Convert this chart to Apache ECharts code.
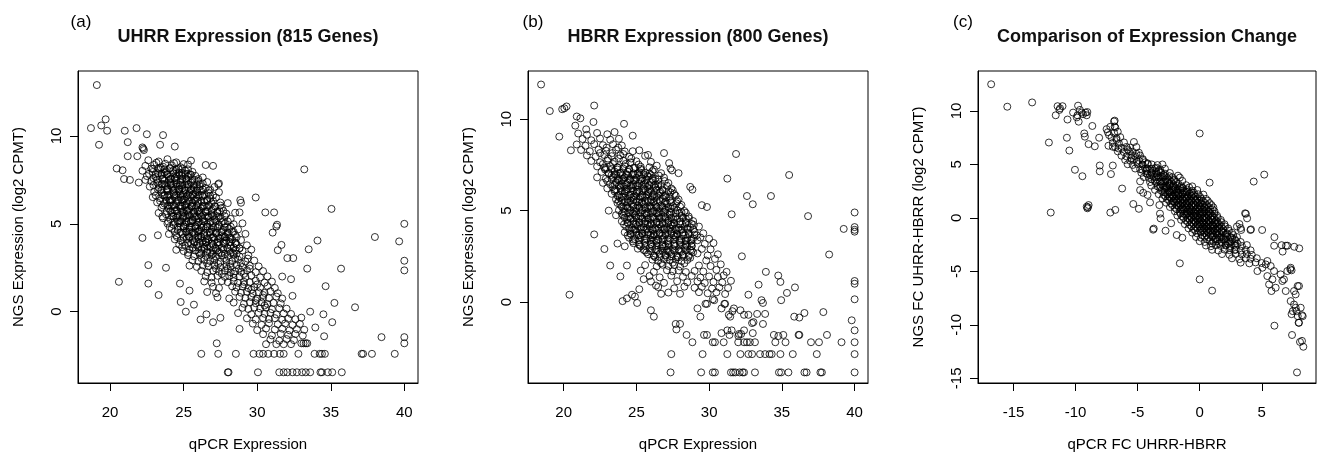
<!DOCTYPE html>
<html>
<head>
<meta charset="utf-8">
<title>qPCR vs NGS expression</title>
<script src="https://cdn.jsdelivr.net/npm/echarts@6/dist/echarts.min.js"></script>
<style>
  html, body { margin: 0; padding: 0; background: #fff; }
  #chart { width: 1317px; height: 457px; }
</style>
</head>
<body>
<div id="chart"></div>
<script>
// labels
const panelLetters = ['(a)', '(b)', '(c)'];
const panelTitles = ['UHRR Expression (815 Genes)', 'HBRR Expression (800 Genes)', 'Comparison of Expression Change'];
const xNames = ['qPCR Expression', 'qPCR Expression', 'qPCR FC UHRR-HBRR'];
const yNames = ['NGS Expression (log2 CPMT)', 'NGS Expression (log2 CPMT)', 'NGS FC UHRR-HBRR (log2 CPMT)'];

// tick labels
const xTicksExpr = [20, 25, 30, 35, 40];
const yTicksExpr = [0, 5, 10];
const xTicksFc = [-15, -10, -5, 0, 5];
const yTicksFc = [-15, -10, -5, 0, 5, 10];

// (a) UHRR: points outside the dense cloud
const uhrrOutliers = [
  [19.1,12.9],[18.7,10.45],[19.25,9.5],[19.4,10.6],[19.7,10.95],[19.8,10.3],
  [21.0,10.3],[21.8,10.45],[22.5,10.1],[23.6,10.05],[23.4,9.5],[24.4,9.4],
  [21.2,9.65],[21.2,8.85],[21.85,8.85],[22.2,9.35],[22.3,9.2],[22.25,9.28],
  [20.45,8.15],[20.85,8.05],[20.95,7.55],[21.35,7.5],[21.95,7.35],[22.4,7.5],
  [25.5,8.6],[26.5,8.35],[27.0,8.3],[27.35,7.25],[27.4,7.3],
  [22.2,4.2],[20.6,1.7],[22.6,2.65],[22.6,1.6],[23.3,0.95],[23.8,2.5],[23.25,4.35],
  [24.75,1.6],[24.8,0.55],[25.15,0.0],[25.7,0.4],[25.4,1.2],
  [26.2,-2.4],[26.15,-0.45],[26.55,-0.15],[27.0,-0.6],[27.5,-0.35],[27.25,-1.8],[27.35,-2.4],
  [28.0,-3.45],[28.05,-3.45],[28.55,-2.4],[30.05,-3.45],
  [29.75,-2.4],[30.15,-2.4],[30.4,-2.4],[30.75,-2.4],[31.15,-2.4],[31.55,-2.4],[31.8,-2.4],
  [31.5,-3.45],[31.8,-3.45],[32.05,-3.45],[32.4,-3.45],[32.7,-3.45],[33.05,-3.45],[33.3,-3.45],
  [33.6,-3.45],[34.3,-3.45],[34.4,-3.45],[34.8,-3.45],[35.1,-3.45],[35.75,-3.45],
  [32.8,-2.4],[33.9,-2.4],[34.25,-2.4],[34.4,-2.4],[34.6,-2.4],
  [33.0,-1.8],[33.15,-1.8],[33.3,-1.8],[33.4,-1.8],
  [37.1,-2.4],[37.2,-2.4],[37.8,-2.4],[39.35,-2.4],
  [38.45,-1.45],[40,-1.45],[40,-1.8],[40,5.0],[40,2.9],[40,2.35],
  [38.0,4.25],[39.65,4.0],[35.7,2.45],[35.05,5.85],[33.2,8.1],[34.1,4.05],[33.5,3.55],[33.4,2.45],
  [34.65,1.45],[35.25,0.5],[36.65,0.25],[35.1,-0.6],[34.5,-0.15],[33.6,0.0],[33.95,-0.9],[34.55,-1.4],
  [29.9,6.5],[30.55,5.65],[31.15,5.65],[31.3,4.85],[31.35,4.95],[31.05,4.5],[31.65,3.8],[31.4,3.5],
  [32.05,3.05],[32.45,3.05],[32.4,0.9],[31.7,2.0],[32.3,1.85],
  [28.9,6.2],[28.85,6.35],[28.8,5.65]
];

// (a) UHRR: dense cloud
const uhrrCore = [
  [22.6,8.62],[23.3,8.55],[23.9,8.68],[24.5,8.5],
  [22.4,8.3],[23.0,8.36],[23.6,8.25],[24.2,8.33],[24.8,8.22],[25.3,8.38],
  [22.2,8.02],[22.9,7.95],[23.4,8.08],[23.8,7.98],[24.3,8.05],[24.7,7.92],[25.1,8.03],[25.6,7.96],
  [22.5,7.72],[23.1,7.66],[23.5,7.78],[24.0,7.7],[24.4,7.62],[24.9,7.75],[25.3,7.68],[25.8,7.73],[26.3,7.64],
  [22.8,7.42],[23.2,7.36],[23.7,7.45],[24.1,7.38],[24.5,7.47],[24.8,7.33],[25.2,7.41],[25.5,7.35],[26.0,7.44],[26.6,7.38],
  [22.7,7.12],[23.3,7.05],[23.8,7.15],[24.2,7.08],[24.6,7.13],[24.9,7.02],[25.3,7.1],[25.7,7.06],[26.1,7.14],[26.5,7.04],[27.1,7.1],
  [23.0,6.82],[23.5,6.76],[23.9,6.85],[24.3,6.78],[24.7,6.84],[25.0,6.74],[25.4,6.81],[25.8,6.77],[26.2,6.86],[26.7,6.75],[27.4,6.8],
  [22.9,6.52],[23.4,6.46],[23.9,6.55],[24.4,6.48],[24.8,6.53],[25.1,6.44],[25.5,6.51],[25.9,6.47],[26.3,6.56],[26.8,6.45],[27.2,6.5],
  [23.2,6.22],[23.7,6.15],[24.1,6.24],[24.5,6.18],[24.9,6.23],[25.2,6.14],[25.6,6.2],[26.0,6.17],[26.4,6.25],[26.9,6.16],[27.5,6.21],[28.0,6.18],
  [23.5,5.92],[24.0,5.86],[24.4,5.95],[24.8,5.88],[25.1,5.93],[25.4,5.84],[25.8,5.9],[26.2,5.87],[26.6,5.96],[27.0,5.85],[27.6,5.91],
  [23.3,5.62],[23.8,5.55],[24.2,5.64],[24.6,5.58],[25.0,5.63],[25.3,5.54],[25.7,5.6],[26.1,5.57],[26.5,5.66],[26.9,5.55],[27.3,5.61],[27.9,5.58],[28.5,5.63],
  [23.6,5.32],[24.1,5.26],[24.5,5.35],[24.9,5.28],[25.2,5.33],[25.6,5.24],[26.0,5.3],[26.3,5.27],[26.7,5.36],[27.1,5.25],[27.5,5.31],[28.2,5.28],
  [23.9,5.02],[24.3,4.95],[24.7,5.04],[25.1,4.98],[25.5,5.03],[25.9,4.94],[26.2,5.0],[26.6,4.97],[27.0,5.06],[27.4,4.95],[27.8,5.01],[28.4,4.98],[29.0,5.03],
  [24.2,4.72],[24.6,4.66],[25.0,4.75],[25.4,4.68],[25.8,4.73],[26.1,4.64],[26.5,4.7],[26.9,4.67],[27.3,4.76],[27.7,4.65],[28.1,4.71],[28.7,4.68],
  [24.0,4.42],[24.5,4.35],[24.9,4.44],[25.3,4.38],[25.7,4.43],[26.0,4.34],[26.4,4.4],[26.8,4.37],[27.2,4.46],[27.6,4.35],[28.0,4.41],[28.5,4.38],[29.2,4.43],
  [24.4,4.12],[24.8,4.05],[25.2,4.14],[25.6,4.08],[26.0,4.13],[26.3,4.04],[26.7,4.1],[27.1,4.07],[27.5,4.16],[27.9,4.05],[28.3,4.11],[28.9,4.08],
  [24.7,3.82],[25.1,3.76],[25.5,3.85],[25.9,3.78],[26.3,3.83],[26.6,3.74],[27.0,3.8],[27.4,3.77],[27.8,3.86],[28.2,3.75],[28.6,3.81],[29.3,3.78],
  [24.5,3.52],[25.0,3.45],[25.4,3.54],[25.8,3.48],[26.2,3.53],[26.6,3.44],[27.0,3.5],[27.3,3.47],[27.7,3.56],[28.1,3.45],[28.5,3.51],[29.0,3.48],[29.6,3.53],
  [25.3,3.22],[25.7,3.15],[26.1,3.24],[26.5,3.18],[26.9,3.23],[27.2,3.14],[27.6,3.2],[28.0,3.17],[28.4,3.26],[28.8,3.15],[29.4,3.21],
  [25.6,2.92],[26.0,2.86],[26.4,2.95],[26.8,2.88],[27.1,2.93],[27.5,2.84],[27.9,2.9],[28.3,2.87],[28.7,2.96],[29.2,2.85],[29.8,2.91],
  [25.4,2.62],[25.9,2.55],[26.3,2.64],[26.7,2.58],[27.1,2.63],[27.5,2.54],[27.9,2.6],[28.2,2.57],[28.6,2.66],[29.0,2.55],[29.5,2.61],[30.1,2.58],
  [26.2,2.32],[26.6,2.25],[27.0,2.34],[27.4,2.28],[27.8,2.33],[28.2,2.24],[28.5,2.3],[28.9,2.27],[29.3,2.36],[29.9,2.25],[30.4,2.31],
  [26.5,2.02],[26.9,1.95],[27.3,2.04],[27.8,1.98],[28.1,2.03],[28.4,1.94],[28.8,2.0],[29.2,1.97],[29.6,2.06],[30.2,1.95],[30.7,2.01],
  [26.4,1.72],[26.9,1.65],[27.6,1.74],[28.0,1.68],[28.4,1.73],[28.7,1.64],[29.1,1.7],[29.5,1.67],[29.9,1.76],[30.5,1.65],[31.0,1.71],
  [27.0,1.42],[27.4,1.35],[28.3,1.44],[28.6,1.38],[29.0,1.43],[29.4,1.34],[29.8,1.4],[30.2,1.37],[30.7,1.46],[31.2,1.35],
  [26.6,1.12],[27.2,1.05],[28.5,1.14],[28.9,1.08],[29.3,1.13],[29.7,1.04],[30.1,1.1],[30.5,1.07],[30.9,1.16],[31.4,1.05],
  [27.3,0.82],[28.1,0.75],[28.8,0.84],[29.2,0.78],[29.6,0.83],[30.0,0.74],[30.4,0.8],[30.8,0.77],[31.3,0.86],[31.7,0.75],
  [28.4,0.52],[29.1,0.45],[29.5,0.54],[29.9,0.48],[30.3,0.53],[30.7,0.44],[31.1,0.5],[31.6,0.47],
  [29.0,0.22],[29.4,0.15],[29.8,0.24],[30.2,0.18],[30.6,0.23],[31.0,0.14],[31.5,0.2],[32.0,0.17],
  [28.7,-0.08],[29.6,-0.15],[30.1,-0.06],[30.5,-0.12],[30.9,-0.07],[31.3,-0.16],[31.8,-0.1],[32.3,-0.13],
  [29.3,-0.38],[29.9,-0.45],[30.4,-0.36],[30.8,-0.42],[31.2,-0.37],[31.7,-0.46],[32.1,-0.4],[32.6,-0.43],[33.0,-0.34],
  [29.7,-0.68],[30.3,-0.75],[30.8,-0.66],[31.4,-0.72],[31.9,-0.67],[32.4,-0.76],[32.9,-0.7],
  [28.8,-0.98],[30.0,-1.05],[30.6,-0.96],[31.2,-1.02],[31.7,-0.97],[32.2,-1.06],[32.7,-1.0],[33.2,-1.03],
  [30.4,-1.28],[31.0,-1.35],[31.6,-1.26],[32.1,-1.32],[32.6,-1.27],[33.1,-1.36],
  [30.9,-1.58],[31.5,-1.65],[32.0,-1.56],[32.5,-1.62],
  [30.6,-1.85],[31.3,-1.85],[31.8,-1.85],[32.3,-1.85],
  [23.7,7.9],[24.1,7.55],[24.5,7.85],[24.9,7.55],[25.3,7.85],[23.5,7.25],[23.9,6.95],[24.3,7.25],[24.7,6.95],
  [25.1,7.25],[25.5,6.95],[25.9,7.25],[23.7,6.65],[24.1,6.35],[24.5,6.65],[24.9,6.35],[25.3,6.65],[25.7,6.35],
  [26.1,6.65],[24.0,6.05],[24.4,5.75],[24.8,6.05],[25.2,5.75],[25.6,6.05],[26.0,5.75],[26.4,6.05],[24.3,5.45],
  [24.7,5.15],[25.1,5.45],[25.5,5.15],[25.9,5.45],[26.3,5.15],[26.7,5.45],[25.0,4.85],[25.4,4.55],[25.8,4.85],
  [26.2,4.55],[26.6,4.85],[27.0,4.55],[26.0,4.25],[26.5,3.95],[27.0,4.25],[27.4,3.95],[27.8,4.25],[28.2,3.95]
];

// (a) UHRR: darkest part of the cloud
const uhrrDense = [
  [22.8,8.15],[23.15,8.48],[23.45,8.2],[23.75,8.42],[24.05,8.15],[24.35,8.45],[24.65,8.12],[25.0,8.4],
  [22.65,7.85],[22.95,7.6],[23.25,7.88],[23.55,7.55],[23.85,7.82],[24.15,7.58],[24.55,7.7],[24.85,7.9],[25.15,7.58],[25.45,7.8],[25.75,7.5],
  [22.95,7.2],[23.25,6.95],[23.55,7.28],[23.85,7.0],[24.15,7.3],[24.4,6.98],[24.75,7.22],[25.05,6.92],[25.35,7.25],[25.65,6.9],[25.95,7.0],[26.3,7.3],[26.8,6.95],
  [23.1,6.62],[23.4,6.3],[23.7,6.6],[24.05,6.32],[24.35,6.68],[24.65,6.38],[24.95,6.65],[25.3,6.35],[25.65,6.68],[25.95,6.3],[26.25,6.62],[26.6,6.32],[27.0,6.62],
  [23.6,6.05],[23.85,5.72],[24.2,6.05],[24.55,5.72],[24.9,6.02],[25.25,5.7],[25.55,6.0],[25.95,5.7],[26.3,5.98],[26.65,5.72],[27.15,5.98],[27.45,5.72],
  [23.55,5.42],[23.95,5.12],[24.3,5.42],[24.6,5.12],[24.95,5.45],[25.35,5.12],[25.7,5.42],[26.05,5.12],[26.45,5.45],[26.85,5.12],[27.25,5.45],[27.7,5.15],
  [24.05,4.82],[24.4,4.55],[24.8,4.85],[25.15,4.52],[25.55,4.82],[25.95,4.55],[26.35,4.85],[26.75,4.52],[27.15,4.85],[27.55,4.52],[27.95,4.82],[28.3,4.55],
  [24.55,4.25],[24.95,3.95],[25.35,4.25],[25.75,3.95],[26.15,4.28],[26.55,3.92],[26.9,4.22],[27.3,3.92],[27.7,4.28],[28.1,4.22],[28.55,3.92],
  [24.9,3.68],[25.3,3.35],[25.65,3.65],[26.05,3.35],[26.4,3.68],[26.8,3.35],[27.15,3.65],[27.55,3.32],[27.95,3.65],[28.35,3.35],[28.8,3.62],
  [26.2,3.05],[26.6,2.75],[27.0,3.05],[27.35,2.72],[27.75,3.05],[28.15,2.72],[28.5,3.05],[28.9,2.75],[29.35,3.02],
  [27.2,2.45],[27.6,2.15],[28.0,2.45],[28.4,2.15],[28.75,2.45],[29.1,2.15],[29.5,2.45],[29.1,1.55],[29.6,1.25],[30.0,1.55],[30.4,0.95],[29.9,0.65],[30.5,0.35],
  [22.9,8.12],[23.3,8.16],[23.7,8.1],[24.1,8.18],[24.5,8.08],[24.9,8.14],[25.3,8.1],
  [23.1,7.82],[23.5,7.86],[23.9,7.8],[24.3,7.88],[24.7,7.78],[25.1,7.84],[25.5,7.8],
  [23.2,7.52],[23.6,7.56],[24.0,7.5],[24.4,7.58],[24.8,7.48],[25.2,7.54],[25.6,7.5],[26.0,7.55],
  [23.3,7.22],[23.7,7.26],[24.1,7.2],[24.5,7.28],[24.9,7.18],[25.3,7.24],[25.7,7.2],[26.1,7.26],
  [23.5,6.92],[23.9,6.96],[24.3,6.9],[24.7,6.98],[25.1,6.88],[25.5,6.94],[25.9,6.9],[26.3,6.96],[26.7,6.9],
  [23.6,6.62],[24.0,6.66],[24.4,6.6],[24.8,6.68],[25.2,6.58],[25.6,6.64],[26.0,6.6],[26.4,6.66],[26.8,6.6],
  [23.8,6.32],[24.2,6.36],[24.6,6.3],[25.0,6.38],[25.4,6.28],[25.8,6.34],[26.2,6.3],[26.6,6.36],[27.0,6.3],
  [23.9,6.02],[24.3,6.06],[24.7,6.0],[25.1,6.08],[25.5,5.98],[25.9,6.04],[26.3,6.0],[26.7,6.06],[27.1,6.0],[27.5,6.04],
  [24.1,5.72],[24.5,5.76],[24.9,5.7],[25.3,5.78],[25.7,5.68],[26.1,5.74],[26.5,5.7],[26.9,5.76],[27.3,5.7],[27.7,5.74],
  [24.2,5.42],[24.6,5.46],[25.0,5.4],[25.4,5.48],[25.8,5.38],[26.2,5.44],[26.6,5.4],[27.0,5.46],[27.4,5.4],[27.8,5.44],
  [24.4,5.12],[24.8,5.16],[25.2,5.1],[25.6,5.18],[26.0,5.08],[26.4,5.14],[26.8,5.1],[27.2,5.16],[27.6,5.1],[28.0,5.14],
  [24.6,4.82],[25.0,4.86],[25.4,4.8],[25.8,4.88],[26.2,4.78],[26.6,4.84],[27.0,4.8],[27.4,4.86],[27.8,4.8],[28.2,4.84],
  [24.8,4.52],[25.2,4.56],[25.6,4.5],[26.0,4.58],[26.4,4.48],[26.8,4.54],[27.2,4.5],[27.6,4.56],[28.0,4.5],[28.4,4.54],
  [25.0,4.22],[25.4,4.26],[25.8,4.2],[26.2,4.28],[26.6,4.18],[27.0,4.24],[27.4,4.2],[27.8,4.26],[28.2,4.2],[28.6,4.24],
  [25.3,3.92],[25.7,3.96],[26.1,3.9],[26.5,3.98],[26.9,3.88],[27.3,3.94],[27.7,3.9],[28.1,3.96],[28.5,3.9],
  [25.6,3.62],[26.0,3.66],[26.4,3.6],[26.8,3.68],[27.2,3.58],[27.6,3.64],[28.0,3.6],[28.4,3.66],[28.8,3.6],
  [26.2,3.32],[26.6,3.36],[27.0,3.3],[27.4,3.38],[27.8,3.28],[28.2,3.34],[28.6,3.3]
];

// (b) HBRR: points outside the dense cloud
const hbrrOutliers = [
  [18.45,11.9],[19.05,10.45],[19.7,9.05],[19.9,10.55],[20.05,10.6],[20.2,10.7],
  [22.1,10.75],[24.15,9.75],[24.75,9.1],[22.05,9.85],
  [20.5,8.3],[20.9,10.15],[21.15,10.05],[20.8,9.65],[21.55,9.45],
  [20.4,0.4],[22.1,3.7],[22.8,2.9],[23.2,2.0],[23.9,1.4],
  [24.05,0.05],[24.35,0.2],[24.7,0.4],[25.05,-0.05],[24.9,0.3],[25.2,0.7],[25.5,1.25],
  [26.0,-0.45],[26.2,-0.8],[26.7,0.45],[26.35,0.9],
  [27.4,-2.85],[27.35,-3.85],[27.7,-1.2],[28.0,-1.2],[27.75,-1.5],[28.45,-1.8],[28.85,-2.2],
  [29.55,-2.85],[29.45,-3.85],[30.25,-3.85],[30.4,-3.85],[31.25,-2.85],[31.5,-3.85],[31.65,-3.85],
  [31.8,-3.85],[32.1,-3.85],[32.3,-3.85],[32.4,-3.85],[33.15,-3.85],
  [29.65,-1.8],[29.85,-1.8],[30.25,-2.2],[30.4,-2.2],[31.0,-2.2],[31.25,-1.55],[32.01,-1.86],[34.76,-1.86],
  [32.0,-2.2],[32.4,-2.2],[32.6,-2.2],[32.8,-2.2],[33.15,-2.2],
  [32.15,-2.85],[32.7,-2.85],[32.95,-2.85],[33.5,-2.85],[33.85,-2.85],[34.15,-2.85],[34.3,-2.85],
  [34.9,-2.85],[35.75,-2.85],[34.8,-3.85],[34.95,-3.85],[35.45,-3.85],[36.55,-3.85],[36.7,-3.85],
  [37.65,-3.85],[37.75,-3.85],[37.4,-2.85],
  [34.45,-1.8],[34.55,-2.2],[35.25,-2.2],[35.1,-1.8],[36.15,-1.8],[36.2,-1.8],[37.0,-2.2],[37.55,-2.2],[38.1,-1.8],[39.1,-2.2],
  [40,4.9],[40,4.1],[40,3.95],[40,3.85],[40,1.15],[40,1.0],[40,0.15],[39.8,-1.0],[40,-1.55],[40,-2.2],[40,-2.85],[40,-3.85],
  [39.25,4.0],[38.25,2.6],[37.85,-0.55],[36.8,4.7],[35.9,0.8],[35.35,0.5],[34.95,0.1],[35.5,6.95],[34.25,5.8],
  [33.0,5.35],[32.6,5.8],[31.85,8.1],[31.25,6.75],[31.55,4.8],[32.25,2.5],[33.9,1.65],[34.75,1.45],[34.9,1.1],
  [33.4,0.95],[32.7,0.4],[33.6,0.1],[33.7,-0.05],
  [29.85,5.2],[29.5,5.3],[28.7,6.3],[28.85,6.15],
  [27.9,7.05],[27.35,7.3],[27.45,7.2],[26.9,8.15],[27.25,7.6],[25.8,8.05],[24.75,8.25],
  [23.1,5.0],[23.6,4.75],[23.7,3.2],[24.2,3.05],[24.35,2.0],
  [29.2,-0.35],[29.4,-0.8],[29.75,-0.1],[29.85,-0.1],[30.25,0.15],[30.35,0.1],[30.85,-0.35],[31.05,-0.1],
  [31.1,-0.1],[31.35,-0.7],[31.45,-0.8],[31.6,-0.5],[31.7,-0.35],[32.15,-0.45],[32.4,-0.7],[32.7,-0.7],
  [32.95,-1.15],[33.05,-1.1],[33.3,-0.65],[33.85,-0.65],[33.7,-1.2],[33.0,-1.7],[32.4,-1.55],[32.05,-1.75],
  [32.2,-1.75],[31.55,-1.55],[31.4,-1.8],[30.85,-1.7],[35.85,-0.8],[36.2,-0.85],[36.55,-0.6]
];

// (b) HBRR: dense cloud
const hbrrCore = [
  [21.0,9.22],[21.6,9.15],[22.3,9.25],[23.0,9.18],[23.5,9.3],
  [21.3,8.92],[21.9,8.85],[22.5,8.95],[23.2,8.88],[23.8,8.93],
  [20.9,8.62],[21.5,8.55],[22.1,8.64],[22.7,8.58],[23.4,8.63],[24.0,8.56],
  [21.2,8.32],[21.8,8.25],[22.4,8.34],[22.9,8.28],[23.6,8.33],[24.2,8.24],[25.2,8.3],
  [21.6,8.02],[22.2,7.95],[22.8,8.04],[23.3,7.98],[23.9,8.03],[24.5,7.94],[25.6,8.0],
  [21.9,7.72],[22.5,7.65],[23.0,7.74],[23.5,7.68],[24.1,7.73],[24.6,7.64],[25.0,7.7],[26.0,7.67],
  [22.3,7.42],[22.8,7.35],[23.2,7.44],[23.7,7.38],[24.2,7.43],[24.8,7.34],[25.3,7.4],[25.9,7.37],[26.4,7.46],
  [22.6,7.12],[23.1,7.05],[23.5,7.14],[23.9,7.08],[24.4,7.13],[24.8,7.04],[25.2,7.1],[25.6,7.07],[26.1,7.16],[26.7,7.05],
  [22.3,6.82],[22.9,6.75],[23.4,6.84],[23.8,6.78],[24.2,6.83],[24.6,6.74],[25.0,6.8],[25.4,6.77],[25.8,6.86],[26.3,6.75],[26.9,6.81],
  [22.7,6.52],[23.2,6.45],[23.6,6.54],[24.0,6.48],[24.4,6.53],[24.8,6.44],[25.2,6.5],[25.6,6.47],[26.0,6.56],[26.5,6.45],[27.2,6.51],
  [23.0,6.22],[23.5,6.15],[23.9,6.24],[24.3,6.18],[24.7,6.23],[25.1,6.14],[25.5,6.2],[25.9,6.17],[26.3,6.26],[26.8,6.15],[27.4,6.21],
  [23.3,5.92],[23.8,5.85],[24.2,5.94],[24.6,5.88],[25.0,5.93],[25.4,5.84],[25.8,5.9],[26.2,5.87],[26.6,5.96],[27.0,5.85],[27.6,5.91],
  [23.6,5.62],[24.0,5.55],[24.4,5.64],[24.8,5.58],[25.2,5.63],[25.6,5.54],[26.0,5.6],[26.4,5.57],[26.8,5.66],[27.3,5.55],[27.9,5.61],
  [23.9,5.32],[24.3,5.25],[24.7,5.34],[25.1,5.28],[25.5,5.33],[25.9,5.24],[26.3,5.3],[26.7,5.27],[27.1,5.36],[27.5,5.25],[28.1,5.31],
  [23.8,5.02],[24.2,4.95],[24.6,5.04],[25.0,4.98],[25.4,5.03],[25.8,4.94],[26.2,5.0],[26.6,4.97],[27.0,5.06],[27.4,4.95],[27.8,5.01],[28.3,4.98],
  [24.1,4.72],[24.5,4.65],[24.9,4.74],[25.3,4.68],[25.7,4.73],[26.1,4.64],[26.5,4.7],[26.9,4.67],[27.3,4.76],[27.7,4.65],[28.1,4.71],[28.6,4.68],
  [24.0,4.42],[24.4,4.35],[24.8,4.44],[25.2,4.38],[25.6,4.43],[26.0,4.34],[26.4,4.4],[26.8,4.37],[27.2,4.46],[27.6,4.35],[28.0,4.41],[28.4,4.38],[28.9,4.43],
  [24.3,4.12],[24.7,4.05],[25.1,4.14],[25.5,4.08],[25.9,4.13],[26.3,4.04],[26.7,4.1],[27.1,4.07],[27.5,4.16],[27.9,4.05],[28.3,4.11],[28.7,4.08],[29.3,4.13],
  [24.2,3.82],[24.6,3.75],[25.0,3.84],[25.4,3.78],[25.8,3.83],[26.2,3.74],[26.6,3.8],[27.0,3.77],[27.4,3.86],[27.8,3.75],[28.2,3.81],[28.6,3.78],[29.0,3.83],[29.6,3.76],
  [24.5,3.52],[24.9,3.45],[25.3,3.54],[25.7,3.48],[26.1,3.53],[26.5,3.44],[26.9,3.5],[27.3,3.47],[27.7,3.56],[28.1,3.45],[28.5,3.51],[28.9,3.48],[29.4,3.53],[30.0,3.46],
  [24.8,3.22],[25.2,3.15],[25.6,3.24],[26.0,3.18],[26.4,3.23],[26.8,3.14],[27.2,3.2],[27.6,3.17],[28.0,3.26],[28.4,3.15],[28.8,3.21],[29.7,3.18],[30.3,3.23],
  [25.1,2.92],[25.5,2.85],[25.9,2.94],[26.3,2.88],[26.7,2.93],[27.1,2.84],[27.5,2.9],[27.9,2.87],[28.3,2.96],[28.7,2.85],[29.5,2.91],[30.1,2.88],
  [25.8,2.62],[26.2,2.55],[26.6,2.64],[27.0,2.58],[27.4,2.63],[27.8,2.54],[28.2,2.6],[28.6,2.57],[29.2,2.66],[29.9,2.55],[30.6,2.61],
  [26.1,2.32],[26.5,2.25],[26.9,2.34],[27.3,2.28],[27.7,2.33],[28.1,2.24],[28.5,2.3],[29.8,2.27],[30.4,2.36],
  [25.6,2.02],[26.4,1.95],[26.8,2.04],[27.2,1.98],[27.6,2.03],[28.0,1.94],[29.3,2.0],[30.1,1.97],[30.8,2.06],
  [25.3,1.72],[26.2,1.65],[27.1,1.74],[27.5,1.68],[27.9,1.73],[28.4,1.64],[29.0,1.7],[29.6,1.67],[30.5,1.76],[31.2,1.65],
  [25.9,1.42],[26.6,1.35],[27.4,1.44],[28.2,1.38],[28.8,1.43],[29.4,1.34],[30.0,1.4],[30.6,1.37],[31.0,1.46],
  [26.0,1.12],[26.9,1.05],[27.8,1.14],[28.5,1.08],[29.2,1.13],[29.7,1.04],[30.3,1.1],[30.9,1.07],[31.5,1.16],
  [26.5,0.82],[27.6,0.75],[28.3,0.84],[29.0,0.78],[29.5,0.83],[30.2,0.74],[30.7,0.8],[31.3,0.77],
  [27.2,0.52],[28.0,0.45],[29.3,0.54],[29.9,0.48],[30.5,0.53],[31.1,0.44],
  [23.6,6.95],[24.0,6.65],[24.4,6.95],[24.8,6.65],[25.2,6.95],[25.6,6.65],[26.0,6.95],[23.8,6.35],[24.2,6.05],
  [24.6,6.35],[25.0,6.05],[25.4,6.35],[25.8,6.05],[26.2,6.35],[24.0,5.75],[24.4,5.45],[24.8,5.75],[25.2,5.45],
  [25.6,5.75],[26.0,5.45],[26.4,5.75],[24.4,5.15],[24.8,4.85],[25.2,5.15],[25.6,4.85],[26.0,5.15],[26.4,4.85],
  [26.8,5.15],[24.6,4.55],[25.0,4.25],[25.4,4.55],[25.8,4.25],[26.2,4.55],[26.6,4.25],[27.0,4.55],[27.4,4.25],
  [24.8,3.95],[25.2,3.65],[25.6,3.95],[26.0,3.65],[26.4,3.95],[26.8,3.65],[27.2,3.95],[27.6,3.65],[28.0,3.95],
  [28.4,3.35],[28.8,3.05],[27.0,3.05],[26.2,3.35]
];

// (b) HBRR: darkest part of the cloud
const hbrrDense = [
  [22.5,8.15],[22.95,8.45],[23.35,8.15],[23.75,8.45],[24.1,8.1],
  [22.7,7.55],[23.05,7.85],[23.4,7.55],[23.8,7.85],[24.25,7.55],[24.65,7.85],[25.15,7.52],
  [22.85,7.25],[23.3,6.95],[23.7,7.25],[24.05,6.92],[24.5,7.28],[24.9,6.95],[25.35,7.22],[25.75,6.9],[26.2,7.25],[26.55,6.92],
  [23.0,6.62],[23.35,6.3],[23.8,6.65],[24.15,6.32],[24.55,6.68],[24.95,6.35],[25.35,6.62],[25.75,6.3],[26.15,6.65],[26.5,6.32],[26.95,6.62],
  [23.5,6.05],[23.85,5.72],[24.3,6.05],[24.65,5.7],[25.05,6.02],[25.45,5.72],[25.85,6.0],[26.25,5.7],[26.65,6.02],[27.05,5.72],[27.35,6.0],
  [23.7,5.42],[24.1,5.12],[24.5,5.45],[24.95,5.12],[25.35,5.42],[25.75,5.12],[26.15,5.45],[26.55,5.12],[26.95,5.42],[27.35,5.12],[27.75,5.4],
  [24.0,4.82],[24.35,4.52],[24.75,4.85],[25.15,4.55],[25.55,4.82],[25.95,4.52],[26.35,4.85],[26.75,4.55],[27.15,4.82],[27.55,4.52],[27.95,4.85],[28.4,4.55],
  [24.15,4.25],[24.55,3.92],[24.95,4.25],[25.35,3.95],[25.75,4.28],[26.15,3.92],[26.55,4.25],[26.95,3.95],[27.35,4.22],[27.75,3.92],[28.15,4.25],[28.55,3.95],[28.95,4.22],
  [24.4,3.65],[24.75,3.32],[25.15,3.65],[25.55,3.35],[25.95,3.68],[26.35,3.35],[26.75,3.62],[27.15,3.32],[27.55,3.65],[27.95,3.35],[28.35,3.65],[28.75,3.35],[29.15,3.65],
  [25.3,3.05],[25.7,2.72],[26.1,3.05],[26.5,2.75],[26.9,3.02],[27.3,2.72],[27.7,3.05],[28.1,2.75],[28.5,3.05],[28.9,2.72],
  [26.3,2.45],[26.7,2.12],[27.1,2.45],[27.5,2.15],[27.9,2.45],[28.3,2.12],[28.7,2.42],
  [22.9,7.32],[23.3,7.28],[23.7,7.35],[24.1,7.3],[24.5,7.26],[24.9,7.33],[25.3,7.29],
  [23.1,7.02],[23.5,6.98],[23.9,7.05],[24.3,7.0],[24.7,6.96],[25.1,7.03],[25.5,6.99],[25.9,7.04],
  [23.3,6.72],[23.7,6.68],[24.1,6.75],[24.5,6.7],[24.9,6.66],[25.3,6.73],[25.7,6.69],[26.1,6.74],[26.5,6.7],
  [23.5,6.42],[23.9,6.38],[24.3,6.45],[24.7,6.4],[25.1,6.36],[25.5,6.43],[25.9,6.39],[26.3,6.44],[26.7,6.4],[27.1,6.36],
  [23.6,6.12],[24.0,6.08],[24.4,6.15],[24.8,6.1],[25.2,6.06],[25.6,6.13],[26.0,6.09],[26.4,6.14],[26.8,6.1],[27.2,6.06],[27.5,6.12],
  [23.7,5.82],[24.1,5.78],[24.5,5.85],[24.9,5.8],[25.3,5.76],[25.7,5.83],[26.1,5.79],[26.5,5.84],[26.9,5.8],[27.3,5.76],[27.7,5.82],
  [23.8,5.52],[24.2,5.48],[24.6,5.55],[25.0,5.5],[25.4,5.46],[25.8,5.53],[26.2,5.49],[26.6,5.54],[27.0,5.5],[27.4,5.46],[27.8,5.52],
  [24.0,5.22],[24.4,5.18],[24.8,5.25],[25.2,5.2],[25.6,5.16],[26.0,5.23],[26.4,5.19],[26.8,5.24],[27.2,5.2],[27.6,5.16],[28.0,5.22],
  [24.1,4.92],[24.5,4.88],[24.9,4.95],[25.3,4.9],[25.7,4.86],[26.1,4.93],[26.5,4.89],[26.9,4.94],[27.3,4.9],[27.7,4.86],[28.1,4.92],[28.4,4.88],
  [24.2,4.62],[24.6,4.58],[25.0,4.65],[25.4,4.6],[25.8,4.56],[26.2,4.63],[26.6,4.59],[27.0,4.64],[27.4,4.6],[27.8,4.56],[28.2,4.62],[28.6,4.58],
  [24.4,4.32],[24.8,4.28],[25.2,4.35],[25.6,4.3],[26.0,4.26],[26.4,4.33],[26.8,4.29],[27.2,4.34],[27.6,4.3],[28.0,4.26],[28.4,4.32],[28.8,4.28],
  [24.5,4.02],[24.9,3.98],[25.3,4.05],[25.7,4.0],[26.1,3.96],[26.5,4.03],[26.9,3.99],[27.3,4.04],[27.7,4.0],[28.1,3.96],[28.5,4.02],[28.9,3.98],
  [24.6,3.72],[25.0,3.68],[25.4,3.75],[25.8,3.7],[26.2,3.66],[26.6,3.73],[27.0,3.69],[27.4,3.74],[27.8,3.7],[28.2,3.66],[28.6,3.72],[29.0,3.68],
  [24.8,3.42],[25.2,3.38],[25.6,3.45],[26.0,3.4],[26.4,3.36],[26.8,3.43],[27.2,3.39],[27.6,3.44],[28.0,3.4],[28.4,3.36],[28.8,3.42],[29.2,3.38],
  [25.2,3.12],[25.6,3.08],[26.0,3.15],[26.4,3.1],[26.8,3.06],[27.2,3.13],[27.6,3.09],[28.0,3.14],[28.4,3.1],[28.8,3.06],
  [25.6,2.82],[26.0,2.78],[26.4,2.85],[26.8,2.8],[27.2,2.76],[27.6,2.83],[28.0,2.79],[28.4,2.84],[28.8,2.8],
  [26.2,2.52],[26.6,2.48],[27.0,2.55],[27.4,2.5],[27.8,2.46],[28.2,2.53],[28.6,2.49]
];

// (c) fold change: points outside the dense band
const fcOutliers = [
  [-16.8,12.5],[-15.5,10.4],[-13.5,10.8],
  [-11.45,10.45],[-11.25,10.25],[-11.05,10.45],[-11.6,9.6],[-11.3,10.1],
  [-10.2,9.85],[-9.8,10.5],[-9.65,10.1],[-9.85,9.6],[-9.5,9.85],[-9.2,9.85],[-9.05,9.9],[-9.75,9.0],[-9.9,9.4],[-9.4,9.7],[-9.1,9.6],
  [-10.65,9.2],[-8.65,8.6],[-9.3,7.9],[-9.25,7.6],[-8.95,6.9],[-8.45,6.7],[-8.1,7.5],[-10.7,7.5],[-10.5,6.3],[-12.15,7.05],
  [-12.0,0.5],[-10.05,4.5],[-9.45,3.9],[-9.1,1.05],[-8.95,1.2],[-9.05,0.9],[-9.0,1.0],
  [-8.05,4.9],[-8.05,4.35],[-7.15,4.1],[-7.0,4.9],[-6.25,2.75],[-7.2,0.5],[-6.8,0.75],[-5.35,1.3],[-4.9,0.85],
  [-7.5,8.3],[-7.3,7.75],[-6.85,9.1],[-6.85,8.55],[-7.35,6.75],[-7.0,6.65],[-6.7,7.3],[-6.55,6.5],
  [-3.75,-1.1],[-3.7,-1.0],[-3.2,0.4],[-3.15,-0.05],[-2.75,-1.2],[-2.3,-0.5],[-1.85,-1.6],[-1.4,-1.85],
  [-1.6,-4.25],[0.0,-5.75],[1.0,-6.8],[0.0,7.9],[0.8,3.3],[4.35,3.4],[5.2,4.05],
  [-4.8,2.6],[-4.55,2.35],[-4.2,2.15],[-4.0,1.45],[-3.25,1.2],[-1.75,3.95],
  [3.66,0.43],[3.82,-0.04],[4.09,-1.13],[5.03,-1.13],[3.34,-1.13],[3.2,-0.57],[3.72,0.39],
  [4.13,-1.07],[3.0,-0.8],[3.3,-0.95],
  [4.65,-4.97],[5.05,-4.66],[5.32,-4.35],[5.45,-4.03],[5.72,-4.5],[5.99,-4.97],[5.45,-5.44],[5.86,-5.75],
  [5.59,-6.22],[5.78,-6.84],[6.12,-6.53],[6.52,-5.28],[6.79,-5.75],[7.06,-4.97],[7.33,-4.66],[6.66,-5.9],
  [6.93,-6.84],[7.6,-6.84],[7.73,-7.15],[8.0,-6.37],
  [7.33,-7.78],[7.6,-8.1],[7.73,-8.4],[7.5,-8.72],[7.8,-8.72],[7.9,-9.19],[8.14,-8.4],[8.0,-9.81],[8.3,-9.19],
  [7.4,-9.0],[6.02,-10.08],[7.44,-10.95],[7.84,-14.45],[8.35,-12.05],[8.08,-11.6],[8.24,-11.5],[8.24,-9.1],
  [7.97,-9.8],[7.89,-6.37],
  [8.02,-2.85],[7.62,-2.7],[6.95,-2.6],[6.6,-2.55],[6.68,-3.15],[6.02,-1.8],[7.3,-4.8],[7.4,-4.9],[6.0,-2.6],[7.07,-2.6]
];

// (c) fold change: dense band
const fcCore = [
  [-6.9,9.02],
  [-7.2,8.52],[-6.8,8.45],
  [-7.4,8.02],[-6.9,7.95],[-6.6,8.06],
  [-7.1,7.52],[-6.7,7.45],[-6.4,7.56],
  [-7.0,7.02],[-6.5,6.95],[-6.1,7.06],[-5.3,7.1],
  [-6.8,6.62],[-6.3,6.55],[-5.9,6.64],[-5.6,6.58],[-5.1,6.63],
  [-6.6,6.22],[-6.1,6.15],[-5.7,6.24],[-5.4,6.18],[-4.9,6.1],
  [-6.3,5.82],[-5.9,5.75],[-5.5,5.84],[-5.2,5.78],[-4.8,5.83],
  [-6.0,5.42],[-5.6,5.35],[-5.3,5.44],[-4.9,5.38],[-4.6,5.43],
  [-5.8,5.02],[-5.4,4.95],[-5.0,5.04],[-4.6,4.98],[-4.2,5.03],[-3.4,4.94],[-3.0,5.0],
  [-5.2,4.62],[-4.8,4.55],[-4.4,4.64],[-4.0,4.58],[-3.6,4.63],[-3.2,4.54],[-2.8,4.6],
  [-4.7,4.22],[-4.3,4.15],[-3.9,4.24],[-3.5,4.18],[-3.1,4.23],[-2.8,4.14],[-2.4,4.2],
  [-4.5,3.82],[-4.1,3.75],[-3.7,3.84],[-3.3,3.78],[-3.0,3.83],[-2.6,3.74],[-2.2,3.8],[-1.6,3.77],
  [-4.8,3.42],[-4.0,3.35],[-3.6,3.44],[-3.2,3.38],[-2.9,3.43],[-2.6,3.34],[-2.3,3.4],[-1.9,3.37],[-1.4,3.46],
  [-3.9,3.02],[-3.4,2.95],[-3.0,3.04],[-2.7,2.98],[-2.4,3.03],[-2.1,2.94],[-1.8,3.0],[-1.5,2.97],[-1.1,3.06],[-0.6,2.95],
  [-3.6,2.62],[-3.1,2.55],[-2.8,2.64],[-2.5,2.58],[-2.2,2.63],[-1.9,2.54],[-1.6,2.6],[-1.3,2.57],[-1.0,2.66],[-0.6,2.55],[-0.2,2.61],
  [-3.3,2.22],[-2.9,2.15],[-2.6,2.24],[-2.3,2.18],[-2.0,2.23],[-1.7,2.14],[-1.4,2.2],[-1.1,2.17],[-0.8,2.26],[-0.5,2.15],[-0.1,2.21],[0.3,2.18],
  [-3.0,1.82],[-2.6,1.75],[-2.3,1.84],[-2.0,1.78],[-1.7,1.83],[-1.4,1.74],[-1.1,1.8],[-0.8,1.77],[-0.5,1.86],[-0.2,1.75],[0.1,1.81],[0.5,1.78],
  [-2.7,1.42],[-2.3,1.35],[-2.0,1.44],[-1.7,1.38],[-1.4,1.43],[-1.1,1.34],[-0.8,1.4],[-0.5,1.37],[-0.2,1.46],[0.1,1.35],[0.4,1.41],[0.8,1.38],
  [-2.4,1.02],[-2.0,0.95],[-1.7,1.04],[-1.4,0.98],[-1.1,1.03],[-0.8,0.94],[-0.5,1.0],[-0.2,0.97],[0.1,1.06],[0.4,0.95],[0.7,1.01],[1.1,0.98],
  [-2.0,0.62],[-1.6,0.55],[-1.3,0.64],[-1.0,0.58],[-0.7,0.63],[-0.4,0.54],[-0.1,0.6],[0.2,0.57],[0.5,0.66],[0.8,0.55],[1.2,0.61],
  [-1.8,0.22],[-1.4,0.15],[-1.1,0.24],[-0.8,0.18],[-0.5,0.23],[-0.2,0.14],[0.1,0.2],[0.4,0.17],[0.7,0.26],[1.0,0.15],[1.4,0.21],
  [-1.5,-0.18],[-1.1,-0.25],[-0.8,-0.16],[-0.5,-0.22],[-0.2,-0.17],[0.1,-0.26],[0.4,-0.2],[0.7,-0.23],[1.0,-0.14],[1.3,-0.25],[1.7,-0.19],
  [-1.2,-0.58],[-0.8,-0.65],[-0.5,-0.56],[-0.2,-0.62],[0.1,-0.57],[0.4,-0.66],[0.7,-0.6],[1.0,-0.63],[1.3,-0.54],[1.6,-0.65],[2.0,-0.59],
  [-0.9,-0.98],[-0.5,-1.05],[-0.2,-0.96],[0.1,-1.02],[0.4,-0.97],[0.7,-1.06],[1.0,-1.0],[1.3,-1.03],[1.6,-0.94],[1.9,-1.05],[2.3,-0.99],
  [-0.6,-1.38],[-0.2,-1.45],[0.1,-1.36],[0.4,-1.42],[0.7,-1.37],[1.0,-1.46],[1.3,-1.4],[1.6,-1.43],[1.9,-1.34],[2.2,-1.45],[2.6,-1.39],
  [-0.3,-1.78],[0.1,-1.85],[0.4,-1.76],[0.7,-1.82],[1.0,-1.77],[1.3,-1.86],[1.6,-1.8],[1.9,-1.83],[2.2,-1.74],[2.6,-1.85],[3.0,-1.79],
  [0.0,-2.18],[0.4,-2.25],[0.8,-2.16],[1.1,-2.22],[1.4,-2.17],[1.8,-2.26],[2.1,-2.2],[2.5,-2.23],[2.9,-2.14],[3.3,-2.25],
  [0.5,-2.58],[0.9,-2.65],[1.3,-2.56],[1.7,-2.62],[2.1,-2.57],[2.5,-2.66],[2.9,-2.6],[3.4,-2.63],[3.8,-2.54],
  [1.0,-2.98],[1.5,-3.05],[2.0,-2.96],[2.4,-3.02],[2.9,-2.97],[3.3,-3.06],[3.7,-3.0],[4.1,-3.03],
  [1.8,-3.38],[2.4,-3.45],[2.9,-3.36],[3.4,-3.42],[3.8,-3.37],[4.2,-3.46],
  [2.6,-3.78],[3.2,-3.85],[3.7,-3.76],[4.1,-3.82],[4.6,-3.77],
  [3.3,-4.18],[4.0,-4.25],[4.5,-4.16],[5.0,-4.22],
  [-2.45,2.4],[-1.85,2.4],[-1.25,2.4],[-0.65,2.4],[-2.15,2.0],[-1.55,2.0],[-0.95,2.0],[-0.35,2.0],
  [-1.85,1.6],[-1.25,1.6],[-0.65,1.6],[-0.05,1.6],[-1.55,1.2],[-0.95,1.2],[-0.35,1.2],[0.25,1.2],
  [-1.25,0.8],[-0.65,0.8],[-0.05,0.8],[0.55,0.8],[-0.95,0.4],[-0.35,0.4],[0.25,0.4],[0.85,0.4],
  [-0.65,0.0],[-0.05,0.0],[0.55,0.0],[1.15,0.0],[-0.35,-0.4],[0.25,-0.4],[0.85,-0.4],[1.45,-0.4],
  [0.0,-0.8],[0.55,-0.8],[1.15,-0.8],[0.3,-1.2],[0.85,-1.2],[1.45,-1.2],[-2.75,2.8],[-2.15,2.8],
  [-1.55,2.8],[-3.05,3.2],[-2.45,3.2]
];

// (c) fold change: darkest part of the band
const fcDense = [
  [-3.45,3.6],[-2.75,3.6],[-2.05,3.6],[-3.25,2.85],[-2.65,2.8],[-1.95,2.8],[-1.35,2.8],[-0.85,2.85],
  [-2.95,2.45],[-2.35,2.4],[-1.75,2.35],[-1.05,2.45],[-0.45,2.35],
  [-2.75,2.0],[-2.4,1.95],[-1.85,2.05],[-1.25,1.95],[-0.65,2.05],[0.05,1.95],
  [-2.45,1.6],[-2.15,1.55],[-1.55,1.62],[-0.95,1.55],[-0.35,1.62],[0.25,1.58],[0.65,1.6],
  [-2.2,1.2],[-1.85,1.2],[-1.25,1.15],[-0.65,1.2],[-0.05,1.15],[0.55,1.2],[0.95,1.2],
  [-1.85,0.8],[-1.5,0.8],[-0.95,0.75],[-0.35,0.8],[0.25,0.78],[0.85,0.8],[1.05,0.8],
  [-1.55,0.4],[-1.25,0.4],[-0.65,0.38],[-0.05,0.42],[0.55,0.4],[1.2,0.4],
  [-1.3,0.0],[-0.95,0.0],[-0.35,0.02],[0.25,-0.02],[0.85,0.0],[1.45,0.0],
  [-0.95,-0.4],[-0.65,-0.4],[-0.05,-0.38],[0.55,-0.42],[1.15,-0.4],[1.75,-0.4],
  [-0.65,-0.8],[-0.3,-0.8],[0.25,-0.8],[0.85,-0.78],[1.45,-0.82],[2.05,-0.8],
  [-0.35,-1.2],[0.05,-1.2],[0.55,-1.2],[1.15,-1.18],[1.75,-1.22],[2.35,-1.2],
  [0.2,-1.6],[0.55,-1.6],[0.85,-1.6],[1.45,-1.62],[2.05,-1.58],[2.7,-1.6],
  [0.6,-2.0],[1.25,-2.0],[1.95,-2.02],[2.65,-2.0],[1.0,-2.4],[1.55,-2.4],[2.3,-2.42],[3.05,-2.4],
  [-4.3,4.4],[-3.8,4.4],[-3.3,4.4],[-4.0,4.0],[-3.4,4.0],[-2.9,4.0],[-5.05,5.25],[-4.4,5.2],[-5.5,5.6],[-5.1,6.0],[-5.8,6.4],
  [-4.6,4.5],[-4.62,5.0],[-4.58,5.5],[-4.2,4.1],[-4.22,4.6],[-4.18,5.1],
  [-3.85,3.6],[-3.87,4.1],[-3.83,4.6],[-3.86,5.0],[-3.5,3.3],[-3.52,3.8],[-3.48,4.3],[-3.51,4.7],
  [-3.15,2.9],[-3.17,3.4],[-3.13,3.9],[-3.16,4.3],[-2.8,2.4],[-2.82,2.9],[-2.78,3.4],[-2.81,3.9],
  [-2.45,2.0],[-2.47,2.5],[-2.43,3.0],[-2.46,3.5],[-2.44,3.9],[-2.1,1.6],[-2.12,2.1],[-2.08,2.6],[-2.11,3.1],[-2.09,3.5],
  [-1.75,1.2],[-1.77,1.7],[-1.73,2.2],[-1.76,2.7],[-1.74,3.2],[-1.4,0.8],[-1.42,1.3],[-1.38,1.8],[-1.41,2.3],[-1.39,2.8],
  [-1.05,0.4],[-1.07,0.9],[-1.03,1.4],[-1.06,1.9],[-1.04,2.4],[-0.7,0.1],[-0.72,0.6],[-0.68,1.1],[-0.71,1.6],[-0.69,2.1],
  [-0.35,-0.3],[-0.37,0.2],[-0.33,0.7],[-0.36,1.2],[-0.34,1.7],[0.0,-0.6],[-0.02,-0.1],[0.02,0.4],[-0.01,0.9],[0.01,1.4],
  [0.35,-1.0],[0.33,-0.5],[0.37,0.0],[0.34,0.5],[0.36,1.0],[0.7,-1.3],[0.68,-0.8],[0.72,-0.3],[0.69,0.2],[0.71,0.6],
  [1.05,-1.7],[1.03,-1.2],[1.07,-0.7],[1.04,-0.2],[1.06,0.2],[1.4,-2.0],[1.38,-1.5],[1.42,-1.0],[1.39,-0.5],
  [1.75,-2.3],[1.73,-1.8],[1.77,-1.3],[1.74,-0.8],[2.1,-2.5],[2.08,-2.0],[2.12,-1.5],
  [2.45,-2.8],[2.43,-2.3],[2.47,-1.8],[2.8,-3.0],[2.78,-2.5],[2.82,-2.0]
];

const uhrrPoints = uhrrOutliers.concat(uhrrCore, uhrrDense);
const hbrrPoints = hbrrOutliers.concat(hbrrCore, hbrrDense);
const fcPoints = fcOutliers.concat(fcCore, fcDense);

document.addEventListener('DOMContentLoaded', function() {
  const FONT = '"Liberation Sans", Arial, sans-serif';
  const chart = echarts.init(document.getElementById('chart'), null, { renderer: 'canvas' });

  // plot boxes (pixels) and axis ranges per panel
  const boxes = [
    { left: 78, top: 71, width: 340, height: 312 },
    { left: 528, top: 71, width: 340, height: 312 },
    { left: 978, top: 71, width: 338, height: 312 }
  ];
  const ranges = [
    { x: [17.82, 40.93], y: [-4.06, 13.7] },
    { x: [17.55, 40.92], y: [-4.43, 12.64] },
    { x: [-17.86, 9.37], y: [-15.44, 13.74] }
  ];
  const xTicks = [xTicksExpr, xTicksExpr, xTicksFc];
  const yTicks = [yTicksExpr, yTicksExpr, yTicksFc];
  const seriesData = [uhrrPoints, hbrrPoints, fcPoints];
  const letterX = [81, 533, 963];

  // R-style tick marks: the axis itself sits on the box edge, the ticks hang outside it
  function tickAxis(extra) {
    return Object.assign({
      type: 'value',
      axisLine: { show: true, onZero: false, lineStyle: { color: '#000', width: 1 } },
      splitLine: { show: false },
      axisTick: { show: true, inside: false, length: 8, lineStyle: { color: '#000', width: 1 } },
      axisLabel: { show: true, fontSize: 15, color: '#000', fontFamily: FONT },
      nameLocation: 'middle',
      nameTextStyle: { fontSize: 15, color: '#000', fontFamily: FONT }
    }, extra);
  }

  const grid = [], xAxis = [], yAxis = [], series = [], graphic = [];
  for (let i = 0; i < 3; i++) {
    grid.push(Object.assign({ show: true, borderColor: '#000', borderWidth: 1, backgroundColor: 'transparent' }, boxes[i]));
    const xa = tickAxis({
      gridIndex: i, position: 'bottom', min: ranges[i].x[0], max: ranges[i].x[1],
      name: xNames[i], nameGap: 54
    });
    xa.axisTick.customValues = xTicks[i];
    xa.axisLabel.customValues = xTicks[i];
    xa.axisLabel.margin = 22;
    xAxis.push(xa);
    const ya = tickAxis({
      gridIndex: i, position: 'left', min: ranges[i].y[0], max: ranges[i].y[1],
      name: yNames[i], nameGap: 52
    });
    ya.axisTick.customValues = yTicks[i];
    ya.axisLabel.customValues = yTicks[i];
    ya.axisLabel.rotate = 90;
    ya.axisLabel.margin = 14;
    yAxis.push(ya);
    series.push({
      type: 'scatter', xAxisIndex: i, yAxisIndex: i,
      symbol: 'circle', symbolSize: 7,
      itemStyle: { color: 'rgba(0,0,0,0)', borderColor: '#000', borderWidth: 1 },
      silent: true,
      data: seriesData[i]
    });
    graphic.push({
      type: 'text', x: boxes[i].left + boxes[i].width / 2, y: 37,
      style: { text: panelTitles[i], font: 'bold 18px ' + FONT, fill: '#111', align: 'center', verticalAlign: 'middle' }
    });
    graphic.push({
      type: 'text', x: letterX[i], y: 22,
      style: { text: panelLetters[i], font: '17px ' + FONT, fill: '#000', align: 'center', verticalAlign: 'middle' }
    });
  }

  chart.setOption({
    animation: false,
    backgroundColor: '#fff',
    grid: grid,
    xAxis: xAxis,
    yAxis: yAxis,
    series: series,
    graphic: graphic
  });

  window.addEventListener('resize', function() {
    chart.resize();
  });
});
</script>
</body>
</html>
